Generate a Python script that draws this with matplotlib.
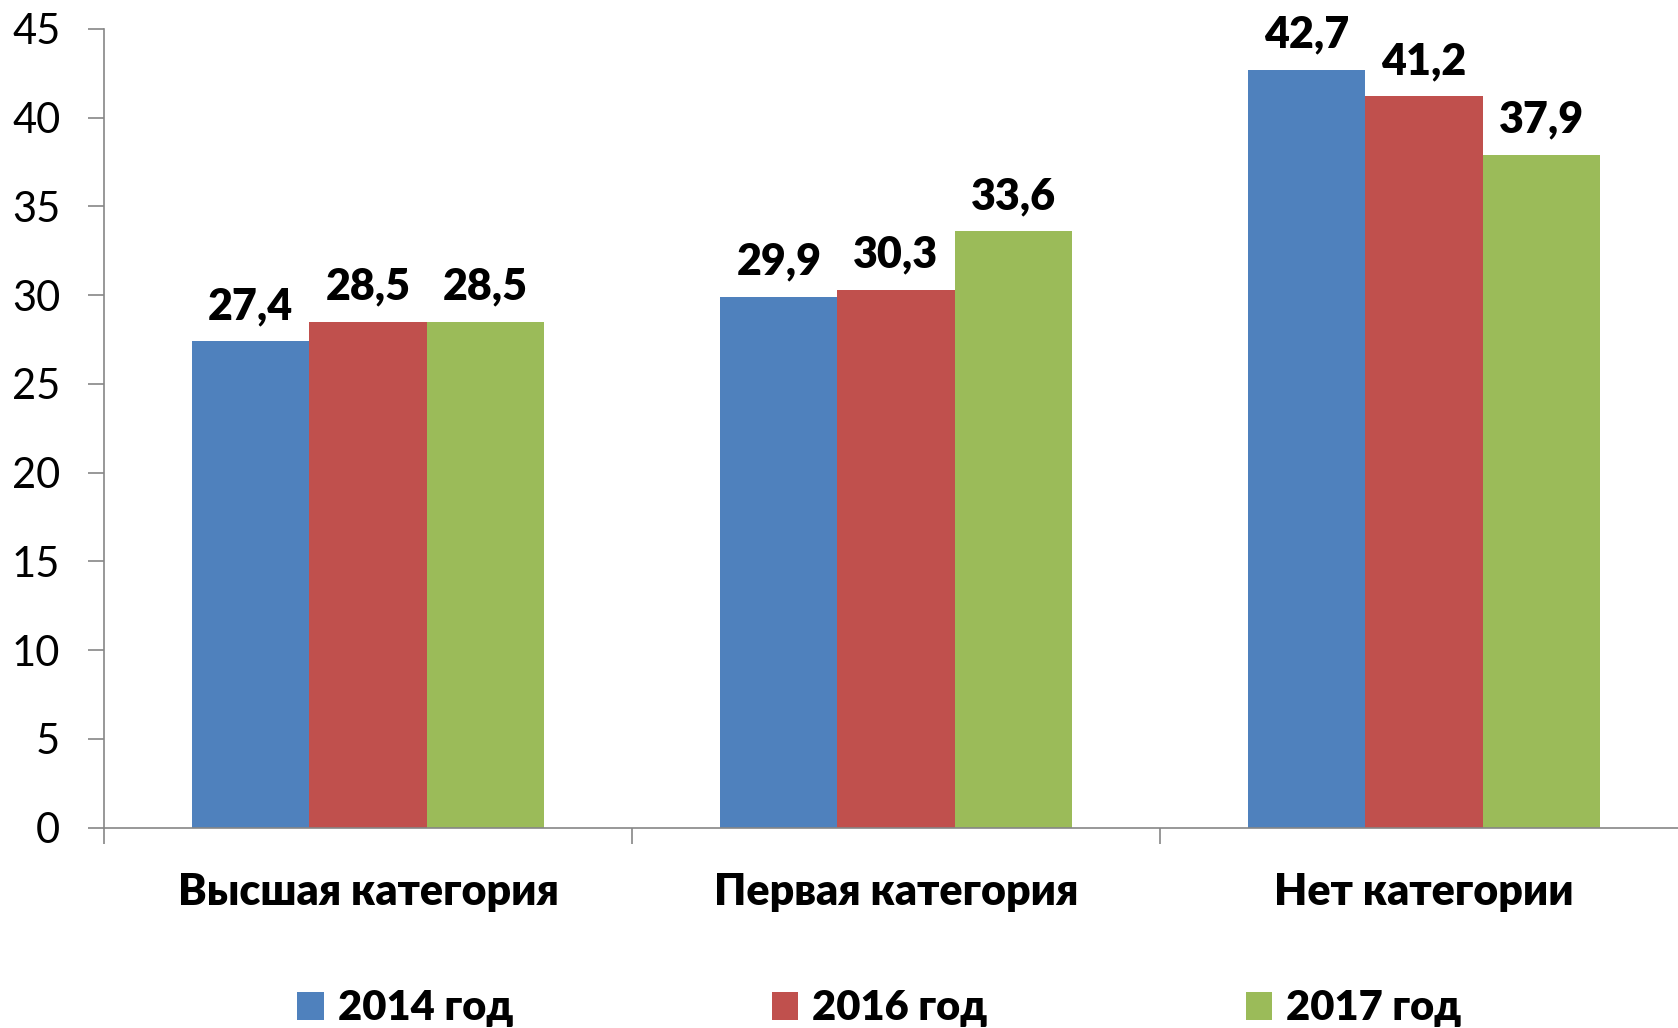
import matplotlib.pyplot as plt
import numpy as np

# categories and values
categories = ["Высшая категория", "Первая категория", "Нет категории"]
series_names = ["2014 год", "2016 год", "2017 год"]
vals_2014 = [27.4, 29.9, 42.7]
vals_2016 = [28.5, 30.3, 41.2]
vals_2017 = [28.5, 33.6, 37.9]
colors = ["#4F81BD", "#C0504D", "#9BBB59"]
y_ticks = [0, 5, 10, 15, 20, 25, 30, 35, 40, 45]

plt.rcParams['font.family'] = ['Lato', 'DejaVu Sans']

fig = plt.figure(figsize=(16.78, 10.28), dpi=100)
ax = fig.add_axes([104 / 1678, 200.3 / 1028, 1584 / 1678, 798.7 / 1028])

x = np.arange(len(categories))
width = 0.222
all_vals = [vals_2014, vals_2016, vals_2017]
for i, (vals, name, col) in enumerate(zip(all_vals, series_names, colors)):
    pos = x + (i - 1) * width
    ax.bar(pos, vals, width, color=col, label=name, zorder=2)
    for p, v in zip(pos, vals):
        ax.annotate(f"{v:.1f}".replace(".", ","), xy=(p, v), xytext=(0, 11),
                    textcoords="offset points", ha="center", va="bottom",
                    fontsize=31, fontweight="heavy")

ax.set_xlim(-0.5, 2.5)
ax.set_ylim(0, 45)
ax.set_yticks(y_ticks)
ax.set_yticklabels([str(t) for t in y_ticks], fontsize=30)

# category labels at centers, separators as minor ticks
ax.set_xticks(x)
ax.set_xticklabels(categories, fontsize=31, fontweight="heavy")
ax.set_xticks([-0.5, 0.5, 1.5, 2.5], minor=True)
ax.tick_params(axis="x", which="major", length=0, pad=32)
ax.tick_params(axis="x", which="minor", length=11.5, direction="out", color="#868686", width=1.2)
ax.tick_params(axis="y", length=11.5, direction="out", color="#868686", width=1.2, pad=20)

for s in ["top", "right"]:
    ax.spines[s].set_visible(False)
for s in ["left", "bottom"]:
    ax.spines[s].set_color("#868686")
    ax.spines[s].set_linewidth(1.2)

fig.legend(loc="center", bbox_to_anchor=(0.524, 0.019), ncol=3, frameon=False,
           prop={"size": 30, "weight": "heavy"}, handlelength=0.64, handleheight=0.64,
           handletextpad=0.33, columnspacing=6.2)

plt.savefig("out.png", dpi=100)
